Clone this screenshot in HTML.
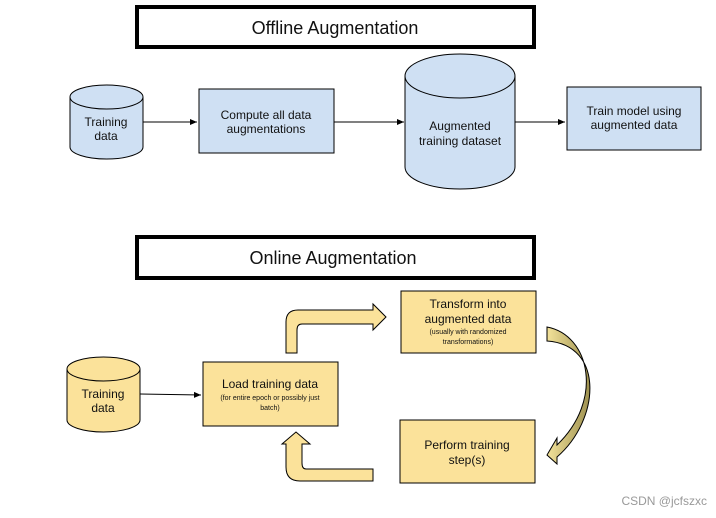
<!DOCTYPE html>
<html><head><style>body{margin:0;background:#fff}svg{display:block}text{font-family:"Liberation Sans",Arial,sans-serif;fill:#111}</style></head><body>
<svg width="716" height="518" viewBox="0 0 716 518" xmlns="http://www.w3.org/2000/svg">
<defs>
<marker id="a" markerWidth="8" markerHeight="8" refX="7" refY="4" orient="auto" markerUnits="userSpaceOnUse"><path d="M0,1 L7,4 L0,7z" fill="#000"/></marker>
<linearGradient id="g" x1="0" y1="0" x2="1" y2="0"><stop offset="0" stop-color="#f3e29a"/><stop offset="1" stop-color="#9e9150"/></linearGradient>
</defs>
<rect x="137" y="7" width="397" height="40" fill="#fff" stroke="#000" stroke-width="4"/>
<text x="335" y="34" font-size="18" text-anchor="middle">Offline Augmentation</text>
<!-- cyl1 -->
<path d="M70,97 V147 A36.5,12 0 0 0 143,147 V97" fill="#cfe0f3" stroke="#000"/>
<ellipse cx="106.5" cy="97" rx="36.5" ry="12" fill="#cfe0f3" stroke="#000"/>
<text x="106" y="126" font-size="12" text-anchor="middle">Training</text>
<text x="106" y="140" font-size="12" text-anchor="middle">data</text>
<line x1="143" y1="122" x2="197" y2="122" stroke="#000" marker-end="url(#a)"/>
<rect x="199" y="89" width="135" height="64" fill="#cfe0f3" stroke="#000"/>
<text x="266" y="119" font-size="12" text-anchor="middle">Compute all data</text>
<text x="266" y="133" font-size="12" text-anchor="middle">augmentations</text>
<line x1="334" y1="122" x2="404" y2="122" stroke="#000" marker-end="url(#a)"/>
<path d="M405,76 V167 A55,22 0 0 0 515,167 V76" fill="#cfe0f3" stroke="#000"/>
<ellipse cx="460" cy="76" rx="55" ry="22" fill="#cfe0f3" stroke="#000"/>
<text x="460" y="130" font-size="12" text-anchor="middle">Augmented</text>
<text x="460" y="145" font-size="12" text-anchor="middle">training dataset</text>
<line x1="515" y1="122" x2="565" y2="122" stroke="#000" marker-end="url(#a)"/>
<rect x="567" y="87" width="134" height="63" fill="#cfe0f3" stroke="#000"/>
<text x="634" y="115" font-size="12" text-anchor="middle">Train model using</text>
<text x="634" y="129" font-size="12" text-anchor="middle">augmented data</text>

<rect x="137" y="237" width="397" height="41" fill="#fff" stroke="#000" stroke-width="4"/>
<text x="333" y="264" font-size="18" text-anchor="middle">Online Augmentation</text>
<path d="M67,369 V420 A36.5,12 0 0 0 140,420 V369" fill="#fbe29a" stroke="#000"/>
<ellipse cx="103.5" cy="369" rx="36.5" ry="12" fill="#fbe29a" stroke="#000"/>
<text x="103" y="398" font-size="12" text-anchor="middle">Training</text>
<text x="103" y="412" font-size="12" text-anchor="middle">data</text>
<line x1="140" y1="394" x2="201" y2="395" stroke="#000" marker-end="url(#a)"/>
<rect x="203" y="362" width="135" height="64" fill="#fbe29a" stroke="#000"/>
<text x="270" y="388" font-size="12" text-anchor="middle">Load training data</text>
<text x="270" y="400" font-size="7" text-anchor="middle">(for entire epoch or possibly just</text>
<text x="270" y="410" font-size="7" text-anchor="middle">batch)</text>
<rect x="401" y="291" width="135" height="62" fill="#fbe29a" stroke="#000"/>
<text x="468" y="308" font-size="12" text-anchor="middle">Transform into</text>
<text x="468" y="323" font-size="12" text-anchor="middle">augmented data</text>
<text x="468" y="334" font-size="7" text-anchor="middle">(usually with randomized</text>
<text x="468" y="344" font-size="7" text-anchor="middle">transformations)</text>
<rect x="400" y="420" width="135" height="63" fill="#fbe29a" stroke="#000"/>
<text x="467" y="449" font-size="12" text-anchor="middle">Perform training</text>
<text x="467" y="464" font-size="12" text-anchor="middle">step(s)</text>
<!-- up-right bent arrow -->
<path d="M286,353 V322 Q286,310 298,310 H373 V304 L386,317 L373,330 V324 H302 Q297,324 297,330 V353 Z" fill="#fbe29a" stroke="#000"/>
<!-- bottom-left bent arrow -->
<path d="M373,469 H306 Q302,469 302,463 V444 H310 L296,432 L282,444 H286 V467 Q286,481 300,481 H373 Z" fill="#fbe29a" stroke="#000"/>
<!-- curved arrow -->
<path d="M547,327 C590,335 604,400 557,445 L557,438 L547,455 L557,464 L557,457 C600,420 605,345 547,341 Z" fill="url(#g)" stroke="#000"/>
<text x="707" y="505" font-size="12" text-anchor="end" style="fill:#999">CSDN @jcfszxc</text>
</svg>
</body></html>
